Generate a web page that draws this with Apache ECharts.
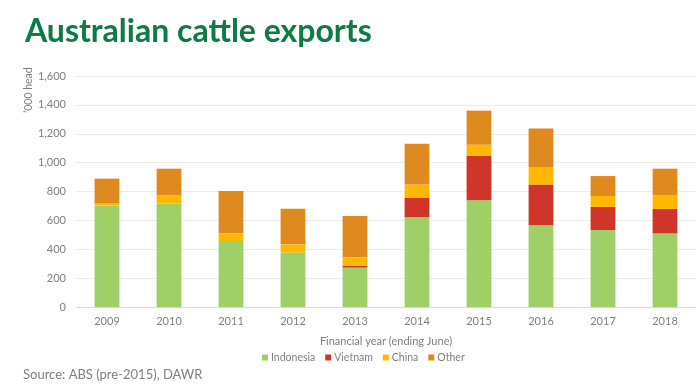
<!DOCTYPE html>
<html>
<head>
<meta charset="utf-8">
<script src="https://cdn.jsdelivr.net/npm/echarts@6/dist/echarts.min.js"></script>
<style>
html,body{margin:0;padding:0;background:#fff;}
#c{width:700px;height:392px;}
</style>
</head>
<body>
<div id="c"></div>
<script>
var categories = ['2009','2010','2011','2012','2013','2014','2015','2016','2017','2018'];
var indonesia = [702, 716, 457, 377, 273, 623, 739, 566, 533, 510];
var vietnam   = [0, 0, 0, 0, 14, 132, 307, 282, 160, 169];
var china     = [14, 57, 53, 57, 57, 93, 78, 122, 76, 97];
var other     = [173, 185, 293, 247, 286, 283, 236, 267, 138, 182];
var seriesNames = ['Indonesia','Vietnam','China','Other'];
var colors = ['#9fd068','#d0352a','#ffb800','#de8a1e'];

var FONT = 'Lato';
var chart = echarts.init(document.getElementById('c'));
var data = [indonesia, vietnam, china, other];
var series = seriesNames.map(function(n, i){
  return {
    name: n, type: 'bar', stack: 'total', data: data[i],
    barWidth: '40%',
    itemStyle: {color: colors[i]},
    emphasis: {disabled: true}
  };
});
chart.setOption({
  animation: false,
  textStyle: {fontFamily: FONT},
  color: colors,
  grid: {left: 76, right: 4, top: 76, bottom: 85, containLabel: false},
  title: {
    text: 'Australian cattle exports',
    left: 20, top: 11,
    textStyle: {fontFamily: FONT, fontWeight: 'bold', fontSize: 32, color: '#0e7a45'}
  },
  legend: {
    data: seriesNames,
    left: 257, top: 347,
    itemWidth: 6, itemHeight: 6, itemGap: 10,
    icon: 'rect',
    textStyle: {fontFamily: FONT, fontSize: 10.5, color: '#7f7f7f', padding: [0,0,0,-2]}
  },
  xAxis: {
    type: 'category', data: categories,
    name: 'Financial year (ending June)',
    nameLocation: 'middle', nameGap: 29,
    nameTextStyle: {fontFamily: FONT, fontSize: 11, color: '#7f7f7f'},
    axisLine: {lineStyle: {color: '#d9d9d9'}},
    axisTick: {show: false},
    axisLabel: {fontFamily: FONT, fontSize: 11, color: '#7f7f7f', margin: 9}
  },
  yAxis: {
    type: 'value', min: 0, max: 1600, interval: 200,
    axisLine: {show: false}, axisTick: {show: false},
    splitLine: {lineStyle: {color: '#ececec'}},
    axisLabel: {
      fontFamily: FONT, fontSize: 11, color: '#7f7f7f', margin: 10,
      formatter: function(v){ return v.toLocaleString('en-US'); }
    }
  },
  graphic: [
    {type: 'text', left: 23, top: 368, style: {text: 'Source: ABS (pre-2015), DAWR', fontFamily: FONT, fontSize: 13, fill: '#7f7f7f'}},
    {type: 'text', x: 23, y: 113, rotation: Math.PI/2, style: {text: '\u2019000 head', fontFamily: FONT, fontSize: 10.5, fill: '#7f7f7f'}}
  ],
  series: series
});
</script>
</body>
</html>
